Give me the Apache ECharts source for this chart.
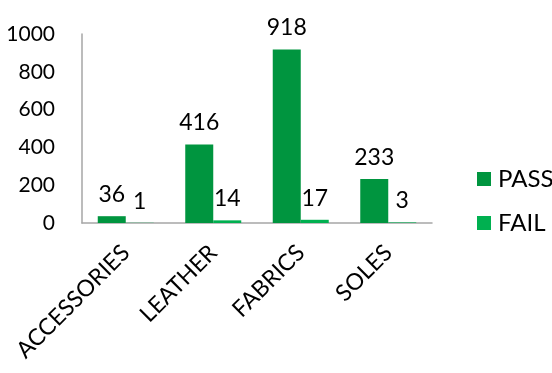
<!DOCTYPE html>
<html>
<head>
<meta charset="utf-8">
<script src="https://cdn.jsdelivr.net/npm/echarts@6/dist/echarts.min.js"></script>
<style>
  html, body { margin: 0; padding: 0; background: #fff; }
  #chart { width: 552px; height: 373px; }
</style>
</head>
<body>
<div id="chart"></div>
<script>
// Inspection results per material group
const categories = ['ACCESSORIES', 'LEATHER', 'FABRICS', 'SOLES'];
const passCounts = [36, 416, 918, 233];
const failCounts = [1, 14, 17, 3];
const yTicks = [0, 200, 400, 600, 800, 1000];

const FONT = 'Lato, "Open Sans", sans-serif';

const chart = echarts.init(document.getElementById('chart'));
chart.setOption({
  animation: false,
  textStyle: { fontFamily: FONT },
  grid: { left: 82, right: 120, top: 34, bottom: 150, containLabel: false },
  legend: {
    orient: 'vertical',
    left: 472,
    top: 162,
    itemWidth: 14,
    itemHeight: 14,
    itemGap: 20,
    icon: 'rect',
    textStyle: { fontFamily: FONT, fontSize: 24, color: '#000', padding: [0, 0, 0, 2] },
    data: ['PASS', 'FAIL']
  },
  xAxis: {
    type: 'category',
    data: categories,
    axisLine: { lineStyle: { color: '#a6a6a6', width: 1.5 } },
    axisTick: { show: false },
    axisLabel: {
      rotate: 45,
      margin: 26,
      interval: 0,
      fontFamily: FONT,
      fontSize: 23,
      color: '#000'
    }
  },
  yAxis: {
    type: 'value',
    min: yTicks[0],
    max: yTicks[yTicks.length - 1],
    interval: yTicks[1] - yTicks[0],
    axisLine: { show: true, lineStyle: { color: '#a6a6a6', width: 1.5 } },
    axisTick: { show: false },
    splitLine: { show: false },
    axisLabel: {
      fontFamily: FONT,
      fontSize: 21,
      color: '#000',
      margin: 27,
      formatter: (v) => String(v)
    }
  },
  series: [
    {
      name: 'PASS',
      type: 'bar',
      data: passCounts,
      barWidth: 28,
      barGap: '0%',
      itemStyle: { color: '#00953f' },
      label: { show: true, position: 'top', distance: 10, fontFamily: FONT, fontSize: 23, color: '#000' }
    },
    {
      name: 'FAIL',
      type: 'bar',
      data: failCounts,
      barWidth: 28,
      barGap: '0%',
      itemStyle: { color: '#00b050' },
      label: { show: true, position: 'top', distance: 10, fontFamily: FONT, fontSize: 23, color: '#000' }
    }
  ]
});
</script>
</body>
</html>
